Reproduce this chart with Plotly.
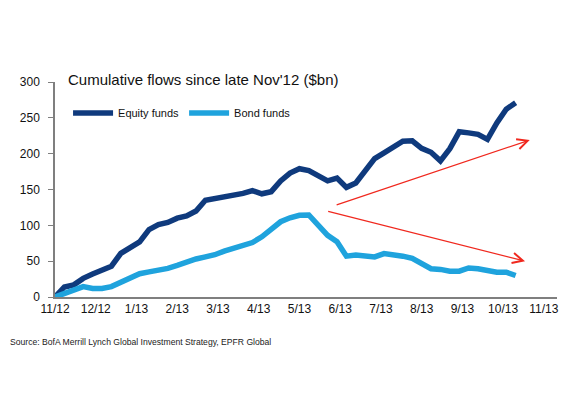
import plotly.graph_objects as go

# Weekly observations since late Nov'12 (week index 0..49)
equity = [0, 14, 17, 26, 32, 37, 43, 61, 68, 77,
          94, 101, 104, 110, 113, 120, 135, 137.5, 139, 141,
          144.5, 148.5, 144, 147, 162, 173, 179, 176.5, 170, 162,
          166, 153, 159, 175, 193, 201, 208.5, 217.5, 218, 207.5,
          202, 190, 207, 230.5, 229, 227, 220, 243, 262, 271]
bond = [0, 5, 9, 14.5, 12, 12, 14.5, 21, 28, 32.5,
        35, 37, 40, 44, 49, 53, 56, 59, 64, 68.5,
        72, 76, 84, 94, 105, 110.5, 114, 114.5, 101, 86,
        77, 57, 58.5, 57, 56, 60.5, 59, 57, 54, 47,
        39.5, 38.5, 36, 36, 40.5, 39.5, 37.5, 34.6, 34.6, 30]
weeks = list(range(len(equity)))
month_labels = ["11/12", "12/12", "1/13", "2/13", "3/13", "4/13", "5/13",
                "6/13", "7/13", "8/13", "9/13", "10/13", "11/13"]
month_pos = [i * 52 / 12 for i in range(len(month_labels))]
y_ticks = [0, 50, 100, 150, 200, 250, 300]

FONT = "Liberation Sans, Arial, sans-serif"
EQ_COL = "#0f3a7d"
BD_COL = "#1fa3dd"
RED = "#f0281e"

fig = go.Figure()
fig.add_trace(go.Scatter(x=weeks, y=equity, mode="lines", name="Equity funds",
                         line=dict(color=EQ_COL, width=5.5)))
fig.add_trace(go.Scatter(x=weeks, y=bond, mode="lines", name="Bond funds",
                         line=dict(color=BD_COL, width=5.5)))

# red arrows (annotations)
fig.add_annotation(x=50.5, y=219, ax=29.8, ay=127.8, xref="x", yref="y",
                   axref="x", ayref="y", showarrow=True, arrowhead=5,
                   arrowsize=1.7, arrowwidth=1.2, arrowcolor=RED, text="")
fig.add_annotation(x=50.0, y=50, ax=28.9, ay=120, xref="x", yref="y",
                   axref="x", ayref="y", showarrow=True, arrowhead=5,
                   arrowsize=1.7, arrowwidth=1.2, arrowcolor=RED, text="")

fig.add_annotation(text="Cumulative flows since late Nov'12 ($bn)",
                   xref="paper", yref="paper", x=0.021, y=1.01,
                   xanchor="left", yanchor="middle", showarrow=False,
                   font=dict(family=FONT, size=15, color="#111111"))
fig.add_annotation(text="Source: BofA Merrill Lynch Global Investment Strategy, EPFR Global",
                   xref="paper", yref="paper", x=-0.094, y=-0.211,
                   xanchor="left", yanchor="middle", showarrow=False,
                   font=dict(family=FONT, size=8.6, color="#222222"))

fig.update_layout(
    width=569, height=398,
    margin=dict(l=43, r=20, t=74, b=108.5),
    paper_bgcolor="white", plot_bgcolor="white",
    font=dict(family=FONT, size=12, color="#111111"),
    showlegend=True,
    legend=dict(orientation="h", x=0.026, y=0.856, xanchor="left", yanchor="middle",
                bgcolor="rgba(0,0,0,0)", font=dict(family=FONT, size=11),
                itemwidth=40, tracegroupgap=0),
    xaxis=dict(range=[0, 53.4], tickmode="array", tickvals=month_pos,
               ticktext=month_labels, showgrid=False, zeroline=False,
               showline=True, linecolor="#7f7f7f", linewidth=1.5, ticks="",
               tickfont=dict(family=FONT, size=12)),
    yaxis=dict(range=[0, 300], tickmode="array", tickvals=y_ticks,
               showgrid=False, zeroline=False, showline=True,
               linecolor="#7f7f7f", linewidth=1.5, ticks="outside", ticklen=5,
               tickcolor="#7f7f7f", tickwidth=1, ticklabelstandoff=6,
               tickfont=dict(family=FONT, size=12)),
)

fig.write_html("out.html")
